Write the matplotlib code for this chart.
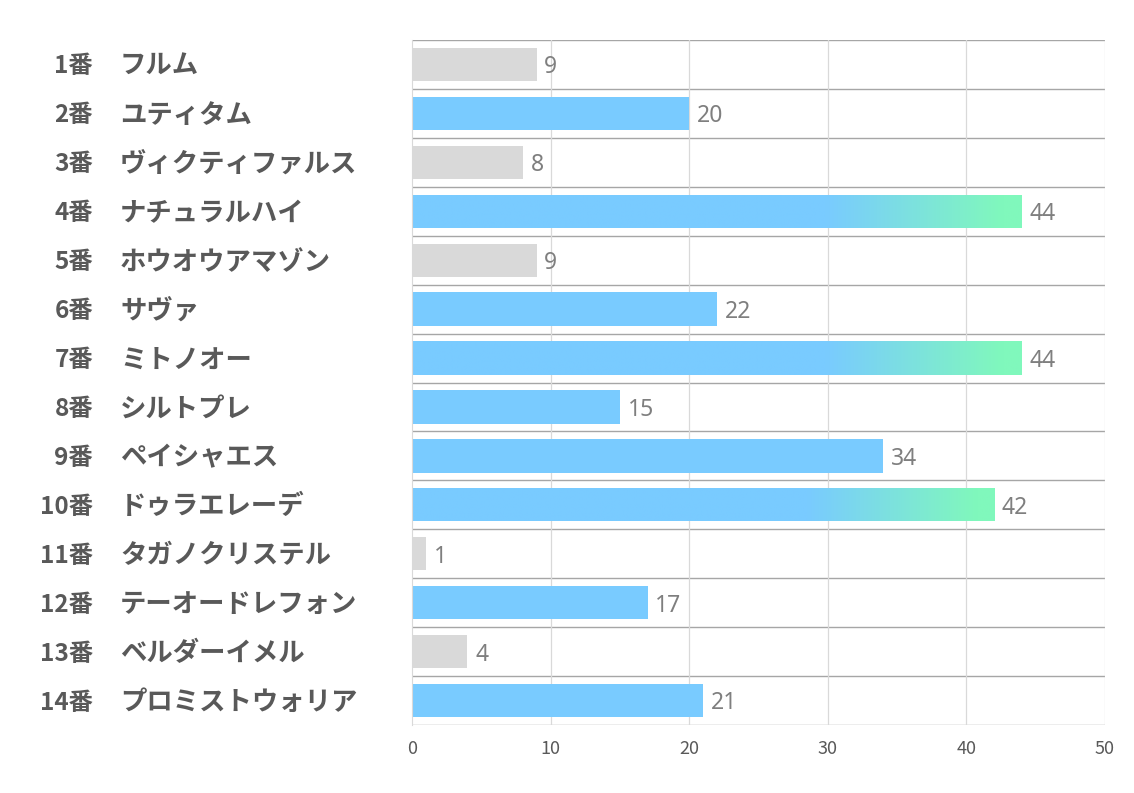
import numpy as np
import matplotlib.pyplot as plt
from matplotlib.colors import LinearSegmentedColormap

plt.rcParams['font.family'] = ['Noto Sans CJK JP', 'DejaVu Sans']

numbers = ['1番', '2番', '3番', '4番', '5番', '6番', '7番', '8番', '9番', '10番',
           '11番', '12番', '13番', '14番']
names = ['フルム', 'ユティタム', 'ヴィクティファルス', 'ナチュラルハイ', 'ホウオウアマゾン',
         'サヴァ', 'ミトノオー', 'シルトプレ', 'ペイシャエス', 'ドゥラエレーデ',
         'タガノクリステル', 'テーオードレフォン', 'ベルダーイメル', 'プロミストウォリア']
values = [9, 20, 8, 44, 9, 22, 44, 15, 34, 42, 1, 17, 4, 21]
# g = gray, b = blue, t = blue->green gradient
kinds = ['g', 'b', 'g', 't', 'g', 'b', 't', 'b', 'b', 't', 'g', 'b', 'g', 'b']
xticks = [0, 10, 20, 30, 40, 50]

GRAY = '#D9D9D9'
BLUE = '#79CBFF'
GREEN = '#80F8BC'
TXT = '#595959'

fig = plt.figure(figsize=(11.34, 7.93), dpi=100)
ax = fig.add_axes([412 / 1134, 1 - 725 / 793, (1105 - 412) / 1134, (725 - 40) / 793])

n = len(values)
cmap = LinearSegmentedColormap.from_list('bg', [(0, BLUE), (0.68, BLUE), (0.97, GREEN), (1, GREEN)])
grad = np.linspace(0, 1, 256).reshape(1, -1)

bar_h = 0.68
for i, (v, k) in enumerate(zip(values, kinds)):
    if k == 'g':
        ax.barh(i, v, height=bar_h, color=GRAY, zorder=2)
    elif k == 'b':
        ax.barh(i, v, height=bar_h, color=BLUE, zorder=2)
    else:
        bar = ax.barh(i, v, height=bar_h, color='none', zorder=2)[0]
        im = ax.imshow(grad, cmap=cmap, aspect='auto', zorder=2,
                       extent=[0, v, i + bar_h / 2, i - bar_h / 2])
        im.set_clip_path(bar)
    ax.text(v + 0.55, i + 0.06, str(v), va='center', ha='left', fontsize=16.5,
            color='#7F7F7F', family=['Noto Sans', 'DejaVu Sans'])

ax.set_xlim(0, 50)
ax.set_ylim(n - 0.5, -0.5)
ax.set_aspect('auto')

# row separators
for b in np.arange(-0.5, n + 0.5, 1):
    ax.axhline(b, color='#A6A6A6', lw=1, zorder=1)
for x in xticks[1:]:
    ax.axvline(x, color='#D9D9D9', lw=0.9, zorder=1)

for s in ax.spines.values():
    s.set_visible(False)
ax.spines['left'].set_visible(True)
ax.spines['left'].set_color('#D9D9D9')

ax.set_yticks([])
ax.set_xticks(xticks)
ax.set_xticklabels([str(x) for x in xticks], fontsize=13, color=TXT)
ax.tick_params(axis='x', length=0, pad=11)

for i in range(n):
    y_fig = 1 - (42 + (i + 0.5) * (685 / n)) / 793
    fig.text(93 / 1134, y_fig, numbers[i], ha='right', va='center', fontsize=17.5,
             fontweight='bold', color=TXT)
    fig.text(120 / 1134, y_fig, names[i], ha='left', va='center', fontsize=19,
             fontweight='bold', color=TXT)

fig.savefig('out.png', dpi=100)
